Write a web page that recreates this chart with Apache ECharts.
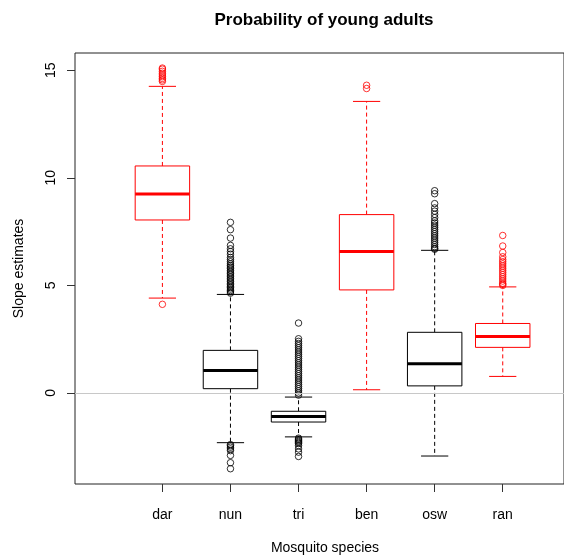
<!DOCTYPE html>
<html>
<head>
<meta charset="utf-8">
<script src="https://cdn.jsdelivr.net/npm/echarts@6/dist/echarts.min.js"></script>
<style>html,body{margin:0;padding:0;background:#fff;}#c{width:564px;height:556px;}</style>
</head>
<body>
<div id="c"></div>
<script>
var categories = ['dar', 'nun', 'tri', 'ben', 'osw', 'ran'];
var lowerWhisker = [4.41, -2.31, -2.04, 0.15, -2.93, 0.77];
var q1 = [8.04, 0.20, -1.35, 4.79, 0.33, 2.12];
var median = [9.25, 1.04, -1.09, 6.58, 1.36, 2.62];
var q3 = [10.55, 1.98, -0.85, 8.29, 2.82, 3.23];
var upperWhisker = [14.25, 4.58, -0.19, 13.55, 6.63, 4.93];
var outliersDar = [4.12, 14.48, 14.55, 14.62, 14.70, 14.78, 14.86, 14.95, 15.05, 15.10];
var outliersNun = [7.93, 7.59, 7.20, 6.86, 6.70, 6.57, 6.45, 6.30, 6.20, 6.10, 6.00, 5.92, 5.85, 5.78, 5.70, 5.62, 5.55, 5.48, 5.40, 5.33, 5.25, 5.18, 5.10, 5.03, 4.96, 4.90, 4.83, 4.76, 4.70, 4.64,
  -2.40, -2.45, -2.52, -2.60, -2.68, -2.90, -3.24, -3.52];
var outliersTri = [3.25, 2.52, 2.40, 2.30, 2.20, 2.10, 2.00, 1.90, 1.80, 1.70, 1.60, 1.50, 1.40, 1.30, 1.20, 1.10, 1.00, 0.90, 0.80, 0.70, 0.60, 0.50, 0.40, 0.30, 0.20, 0.10, 0.00, -0.10,
  -2.10, -2.15, -2.20, -2.25, -2.30, -2.35, -2.45, -2.60, -2.75, -2.95];
var outliersBen = [14.15, 14.30];
var outliersOsw = [9.40, 9.26, 8.80, 8.60, 8.45, 8.30, 8.15, 8.00, 7.90, 7.80, 7.70, 7.60, 7.50, 7.40, 7.30, 7.20, 7.10, 7.00, 6.90, 6.80, 6.72, 6.68];
var outliersRan = [7.32, 6.83, 6.53, 6.33, 6.20, 6.10, 6.00, 5.90, 5.80, 5.70, 5.60, 5.50, 5.40, 5.30, 5.20, 5.10, 5.05, 5.00];
var yTicks = [0, 5, 10, 15];

var boxColors = ['#FF0000', '#000000', '#000000', '#FF0000', '#000000', '#FF0000'];
var outlierSets = [outliersDar, outliersNun, outliersTri, outliersBen, outliersOsw, outliersRan];

var boxData = categories.map(function (c, i) {
  return [i + 1, lowerWhisker[i], q1[i], median[i], q3[i], upperWhisker[i]];
});
var outlierData = [];
outlierSets.forEach(function (arr, i) {
  arr.forEach(function (v) {
    outlierData.push({ value: [i + 1, v], itemStyle: { borderColor: boxColors[i] } });
  });
});

function renderBox(params, api) {
  var i = params.dataIndex;
  var x = api.value(0);
  var lw = api.value(1), a = api.value(2), m = api.value(3), b = api.value(4), uw = api.value(5);
  var col = boxColors[i];
  var bw = api.size([0.8, 0])[0];
  var cw = api.size([0.4, 0])[0];
  var pLw = api.coord([x, lw]), pA = api.coord([x, a]), pM = api.coord([x, m]), pB = api.coord([x, b]), pUw = api.coord([x, uw]);
  var cx = pM[0];
  var dash = { stroke: col, lineWidth: 1, lineDash: [4, 3] };
  var solid = { stroke: col, lineWidth: 1 };
  return {
    type: 'group',
    children: [
      { type: 'line', shape: { x1: cx, y1: pB[1], x2: cx, y2: pUw[1] }, style: dash },
      { type: 'line', shape: { x1: cx, y1: pA[1], x2: cx, y2: pLw[1] }, style: dash },
      { type: 'line', shape: { x1: cx - cw / 2, y1: pUw[1], x2: cx + cw / 2, y2: pUw[1] }, style: solid },
      { type: 'line', shape: { x1: cx - cw / 2, y1: pLw[1], x2: cx + cw / 2, y2: pLw[1] }, style: solid },
      { type: 'rect', shape: { x: cx - bw / 2, y: pB[1], width: bw, height: pA[1] - pB[1] }, style: { fill: '#fff', stroke: col, lineWidth: 1 } },
      { type: 'line', shape: { x1: cx - bw / 2, y1: pM[1], x2: cx + bw / 2, y2: pM[1] }, style: { stroke: col, lineWidth: 3 } }
    ]
  };
}

var chart = echarts.init(document.getElementById('c'), null, { renderer: 'canvas' });
var font = 'Liberation Sans, Arial, sans-serif';
chart.setOption({
  animation: false,
  backgroundColor: '#fff',
  graphic: [{
    type: 'text', x: 324, y: 20,
    style: {
      text: 'Probability of young adults',
      textAlign: 'center', textVerticalAlign: 'middle',
      font: 'bold 17px Liberation Sans, Arial, sans-serif', fill: '#000'
    }
  }],
  grid: { left: 75, right: 0, top: 53, bottom: 72, outerBoundsMode: 'none', containLabel: false, show: true, borderColor: '#222', borderWidth: 1, backgroundColor: 'transparent' },
  xAxis: {
    type: 'value', min: -0.284, max: 6.90,
    name: 'Mosquito species', nameLocation: 'middle', nameGap: 57,
    nameTextStyle: { fontFamily: font, fontSize: 14, color: '#000', padding: [0, 0, 0, 11] },
    axisLine: { show: false, onZero: false },
    splitLine: { show: false },
    axisTick: { show: true, length: 8, customValues: [1, 2, 3, 4, 5, 6], lineStyle: { color: '#333' } },
    axisLabel: {
      customValues: [1, 2, 3, 4, 5, 6], margin: 24,
      fontFamily: font, fontSize: 14, color: '#000',
      formatter: function (v) { return categories[Math.round(v) - 1] || ''; }
    }
  },
  yAxis: {
    type: 'value', min: -4.23, max: 15.80,
    name: 'Slope estimates', nameLocation: 'middle', nameGap: 49,
    nameTextStyle: { fontFamily: font, fontSize: 14, color: '#000' },
    axisLine: { show: false, onZero: false },
    splitLine: { show: false },
    axisTick: { show: true, length: 8, customValues: yTicks, lineStyle: { color: '#333' } },
    axisLabel: {
      customValues: yTicks, rotate: 90, margin: 17,
      fontFamily: font, fontSize: 14, color: '#000'
    }
  },
  series: [
    {
      type: 'line', data: [], silent: true,
      markLine: {
        silent: true, symbol: 'none', label: { show: false },
        lineStyle: { color: '#c8c8c8', type: 'solid', width: 1 },
        data: [{ yAxis: 0 }]
      }
    },
    {
      type: 'custom', renderItem: renderBox, data: boxData,
      encode: { x: 0, y: [1, 2, 3, 4, 5] }, z: 3
    },
    {
      type: 'scatter', data: outlierData, symbol: 'circle', symbolSize: 6.5, z: 4,
      itemStyle: { color: 'rgba(255,255,255,0)', borderWidth: 1 }
    }
  ]
});
</script>
</body>
</html>
